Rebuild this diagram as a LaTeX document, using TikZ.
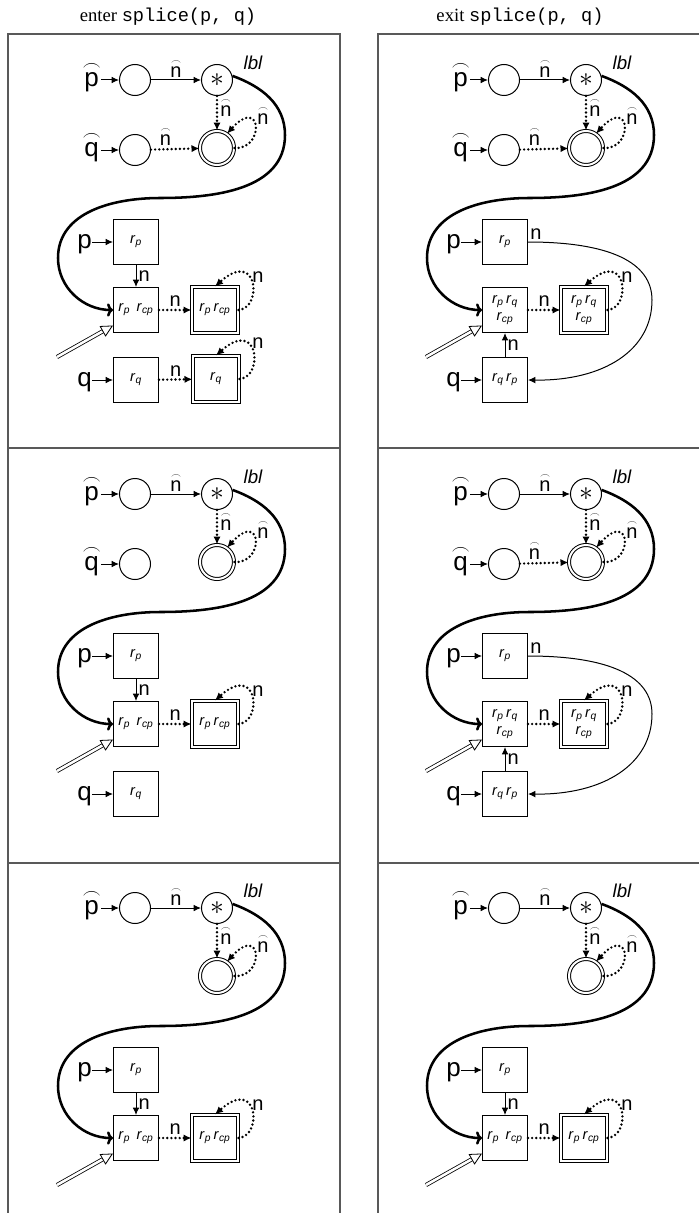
\documentclass[tikz,border=0pt]{standalone}
\usepackage{graphicx}
\usepackage{fontspec}
\setmainfont{Liberation Sans}
\setmonofont{Liberation Mono}
\newfontfamily\titlefont{Liberation Serif}
\usetikzlibrary{arrows.meta}

% letter with a round arc accent above it; the baseline stays that of the letter
\newcommand{\archat}[2][0.7em]{\vbox{\offinterlineskip\halign{\hfil##\hfil\cr\resizebox{#1}{!}{$\frown$}\cr\noalign{\kern1.8pt}#2\cr}}}
% region variable r with an index
\newcommand{\rv}[1]{\textit{r}\textsubscript{\textit{#1}}}

\tikzset{
  big/.style={font=\fontsize{19.5}{20}\selectfont, inner sep=0pt},
  nlab/.style={font=\fontsize{15}{16}\selectfont, inner sep=1.5pt},
  lbl/.style={font=\fontsize{14}{15}\itshape, inner sep=0pt},
  hcirc/.style={draw, circle, line width=0.75pt, minimum size=23.25pt, inner sep=0pt},
  dcirc/.style={draw, circle, double, line width=0.75pt, double distance=1.5pt, minimum size=25.5pt, inner sep=0pt},
  cell/.style={draw, line width=0.75pt, minimum size=33.75pt, inner sep=0pt, align=center,
    font=\fontsize{11}{13}\selectfont},
  dcell/.style={cell, double, double distance=1.5pt, minimum size=34.5pt},
  arr/.style={line width=0.75pt, -{Latex[length=5.5pt,width=5pt]}},
  dotarr/.style={line width=2pt, dash pattern=on 0pt off 3.1pt, line cap=round,
    -{Latex[length=6pt,width=5.5pt]}},
  thickc/.style={line width=1.9pt, -{To[length=4.5pt,width=10pt]}},
  hollow/.style={double, line width=0.6pt, double distance=1.9pt,
    -{Triangle[open,length=9pt,width=9pt,line width=0.6pt]}},
  frame/.style={line width=1.1pt, black!65},
  % one state graph: summary heap on top, concrete region below
  pics/panel/.style 2 args={code={
    \node[hcirc] (c1) at (135,-80) {};
    \node[big, anchor=base east] (ph) at (101,-86.75) {\archat{p}};
    \draw[arr] (ph.east |- c1) -- (c1);
    \node[hcirc, font=\fontsize{22}{22}\selectfont] (star) at (217,-80) {$\ast$};
    \draw[arr] (c1) -- node[nlab, above, pos=0.5] (nh1) {\archat[0.5em]{n}} (star);
    \node[lbl] (lb) at (253,-63) {lbl};
    \node[dcirc] (dc) at (217,-148) {};
    \draw[dotarr] (star) -- node[nlab, right, pos=0.35] (nh2) {\archat[0.5em]{n}} (dc);
    \draw[dotarr] (dc.east) .. controls (265,-150) and (262,-95) .. (dc.55);
    \node[nlab] (nh3) at (263,-116) {\archat[0.5em]{n}};
    \node[cell] (pb) at (136,-242) {\rv{p}};
    \node[big, anchor=base east] (pl) at (92,-248.75) {p};
    \draw[arr] (pl.east |- pb) -- (pb);
    \node[cell] (mid) at (136,-310) {#1};
    \node[dcell] (dm) at (215,-310) {#2};
    \draw[dotarr] (mid) -- node[nlab, above, pos=0.5] (n1) {n} (dm);
    \draw[dotarr] (dm.east) .. controls (263,-308) and (258,-248) .. (dm.north);
    \node[nlab] (n2) at (258,-277) {n};
    \draw[thickc] (star.15) to[out=-20,in=90] (285,-135) to[out=-90,in=0] (160,-198)
      to[out=180,in=90] (58,-258) to[out=-90,in=180] (mid.west);
    \coordinate (tail) at (57,-357);
    \draw[hollow] (tail) -- (mid.214);
  }}
}

% pieces that only some graphs contain
\newcommand{\QhatNodes}{%
  \node[hcirc] (c3) at (135,-150) {};
  \node[big, anchor=base east] (qh) at (101,-156.75) {\archat{q}};
  \draw[arr] (qh.east |- c3) -- (c3);}
\newcommand{\QhatEdge}{%
  \draw[dotarr] (c3) -- node[nlab, above, pos=0.3] (nh4) {\archat[0.5em]{n}} (dc);}
\newcommand{\PDown}{%
  \draw[arr] (pb) -- node[nlab, right, pos=0.5] (n3) {n} (mid);}
\newcommand{\QBox}[1]{%
  \node[cell] (qb) at (136,-380) {#1};
  \node[big, anchor=base east] (ql) at (92,-386.75) {q};
  \draw[arr] (ql.east |- qb) -- (qb);}

\begin{document}
\begin{tikzpicture}[x=0.75pt, y=0.75pt]
\useasboundingbox (0,0) rectangle (699,-1213);

% column headings
\node[font=\titlefont\fontsize{14}{16}\selectfont] (tl) at (168,-17) {enter \texttt{splice(p, q)}};
\node[font=\titlefont\fontsize{14}{16}\selectfont] (tr) at (520,-17) {exit \texttt{splice(p, q)}};

% frames
\draw[frame] (8,-1213) -- (8,-34) -- (340,-34) -- (340,-1213);
\draw[frame] (8,-448) -- (340,-448);
\draw[frame] (8,-863) -- (340,-863);
\draw[frame] (378,-1213) -- (378,-34) -- (699,-34);
\draw[frame] (378,-448) -- (699,-448);
\draw[frame] (378,-863) -- (699,-863);

% ---- entry, first graph
\pic (L1) at (0,0) {panel={\rv{p}\hspace{0.45em}\rv{cp}}{\rv{p}\,\rv{cp}}};
\begin{scope}[name prefix=L1]
  \QhatNodes \QhatEdge \PDown
  \QBox{\rv{q}}
  \node[dcell] (dq) at (216,-379) {\rv{q}};
  \draw[dotarr] (qb) -- node[nlab, above, pos=0.5] (n4) {n} (dq);
  \draw[dotarr] (dq.east) .. controls (264,-377) and (259,-317) .. (dq.north);
  \node[nlab] (n5) at (258,-343) {n};
\end{scope}

% ---- entry, second graph
\pic (L2) at (0,-414) {panel={\rv{p}\hspace{0.45em}\rv{cp}}{\rv{p}\,\rv{cp}}};
\begin{scope}[shift={(0,-414)}, name prefix=L2]
  \QhatNodes \PDown
  \QBox{\rv{q}}
\end{scope}

% ---- entry, third graph
\pic (L3) at (0,-828) {panel={\rv{p}\hspace{0.45em}\rv{cp}}{\rv{p}\,\rv{cp}}};
\begin{scope}[shift={(0,-828)}, name prefix=L3]
  \PDown
\end{scope}

% ---- exit graphs
\foreach \row/\dy in {R1/0, R2/-414} {
  \pic (\row) at (369,\dy) {panel={\rv{p}\,\rv{q}\\\rv{cp}}{\rv{p}\,\rv{q}\\\rv{cp}}};
  \begin{scope}[shift={(369,\dy)}, name prefix=\row]
    \QhatNodes \QhatEdge
    \QBox{\rv{q}\,\rv{p}}
    \draw[arr] (qb) -- node[nlab, right, pos=0.5] (n3) {n} (mid);
    \draw[arr] (pb.east) .. controls (240,-242) and (283,-262) .. (283,-300)
      .. controls (283,-350) and (235,-381) .. (qb.east);
    \node[nlab, anchor=south west] (n6) at (pb.east) {n};
  \end{scope}
}
\pic (R3) at (369,-828) {panel={\rv{p}\hspace{0.45em}\rv{cp}}{\rv{p}\,\rv{cp}}};
\begin{scope}[shift={(369,-828)}, name prefix=R3]
  \PDown
\end{scope}
\end{tikzpicture}
\end{document}
